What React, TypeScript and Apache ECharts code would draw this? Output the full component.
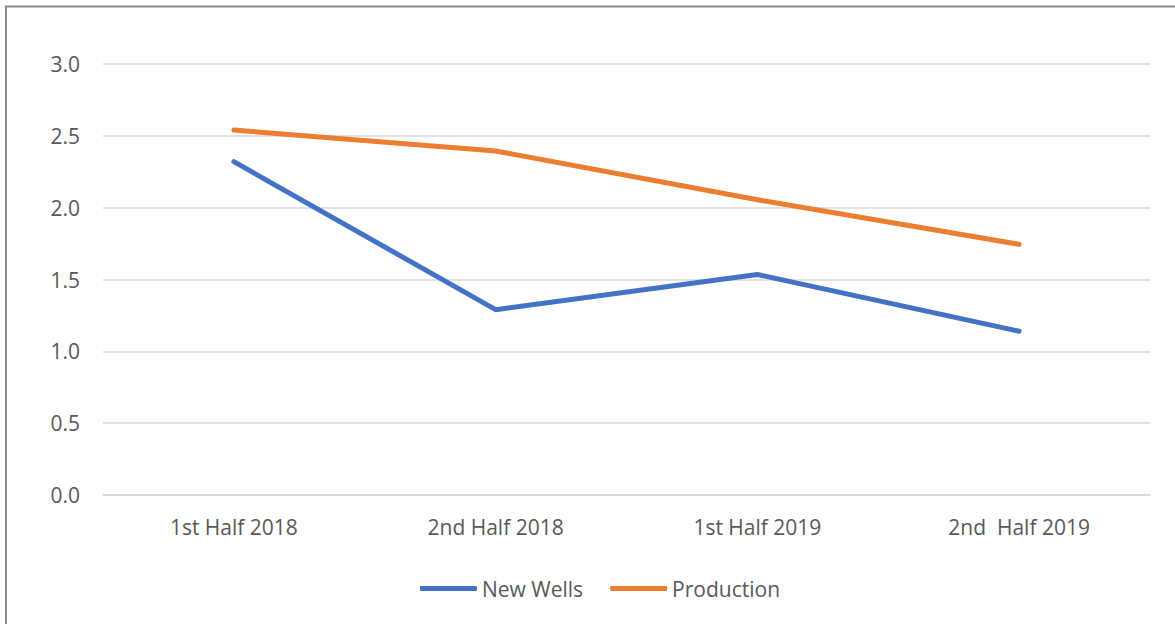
import React, { useEffect, useRef } from "react";
import * as echarts from "echarts";

const categories = ["1st Half 2018", "2nd Half 2018", "1st Half 2019", "2nd  Half 2019"];
const newWells = [2.32, 1.29, 1.535, 1.14];
const production = [2.54, 2.395, 2.055, 1.745];
const seriesNames = ["New Wells", "Production"];

export default function App() {
  const ref = useRef<HTMLDivElement>(null);
  useEffect(() => {
    if (!ref.current) return;
    const chart = echarts.init(ref.current, null, { renderer: "svg" });
    const font = "Open Sans";
    chart.setOption({
      animation: false,
      backgroundColor: "#ffffff",
      textStyle: { fontFamily: font },
      graphic: [
        {
          type: "rect",
          shape: { x: 6, y: 6.5, width: 1250, height: 700 },
          style: { fill: "none", stroke: "#898989", lineWidth: 2 },
          silent: true,
        },
      ],
      grid: { left: 103, right: 25, top: 64, bottom: 129, containLabel: false },
      legend: {
        left: 415,
        top: 573,
        itemWidth: 57,
        itemHeight: 5,
        itemGap: 27,
        icon: "roundRect",
        textStyle: { color: "#595959", fontSize: 21, fontFamily: font },
        data: seriesNames,
      },
      xAxis: {
        type: "category",
        data: categories,
        boundaryGap: true,
        axisLine: { show: true, lineStyle: { color: "#d9d9d9", width: 1.5 } },
        axisTick: { show: false },
        axisLabel: { color: "#595959", fontSize: 21, margin: 21, fontFamily: font },
      },
      yAxis: {
        type: "value",
        min: 0,
        max: 3,
        interval: 0.5,
        axisLine: { show: false },
        axisTick: { show: false },
        splitLine: { lineStyle: { color: "#d9d9d9", width: 1.5 } },
        axisLabel: {
          color: "#595959",
          fontSize: 21,
          margin: 23,
          fontFamily: font,
          formatter: (v: number) => v.toFixed(1),
        },
      },
      series: [
        {
          name: seriesNames[0],
          type: "line",
          data: newWells,
          symbol: "none",
          lineStyle: { color: "#4472C4", width: 5, cap: "round", join: "round" },
          itemStyle: { color: "#4472C4" },
        },
        {
          name: seriesNames[1],
          type: "line",
          data: production,
          symbol: "none",
          lineStyle: { color: "#ED7D31", width: 5, cap: "round", join: "round" },
          itemStyle: { color: "#ED7D31" },
        },
      ],
    });
    return () => chart.dispose();
  }, []);
  return (
    <div
      ref={ref}
      style={{ position: "absolute", left: 0, top: 0, width: 1175, height: 624 }}
    />
  );
}
